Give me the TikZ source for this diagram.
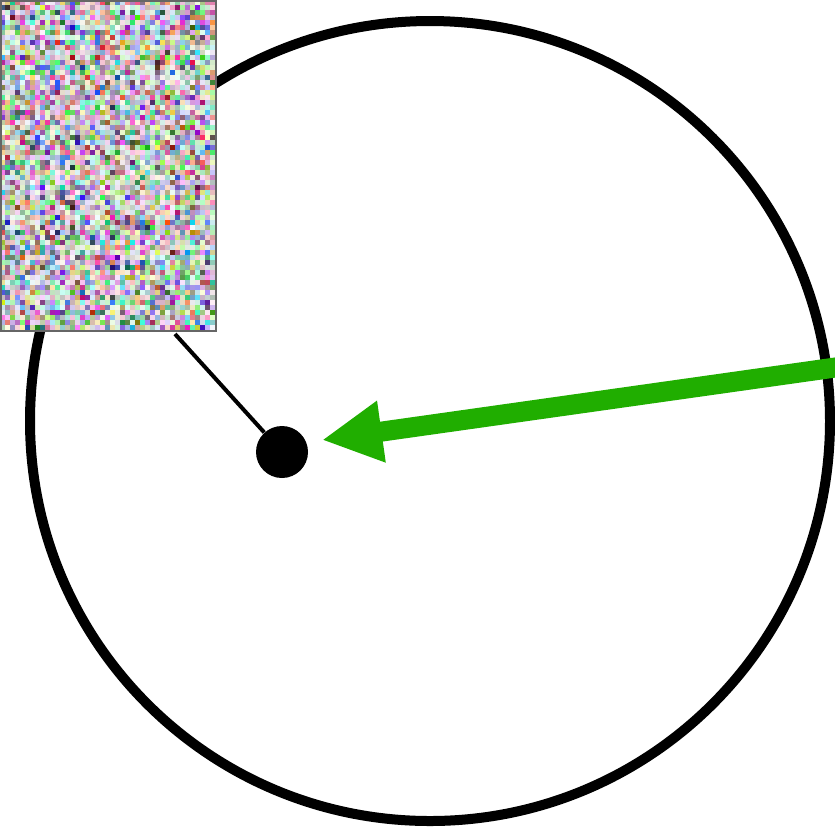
\documentclass[tikz,border=0pt]{standalone}
\usepackage{tikz}
\usetikzlibrary{positioning,calc,arrows.meta}

\definecolor{pushgreen}{RGB}{32,174,0}

\begin{document}
\begin{tikzpicture}[x=0.5pt, y=-0.5pt,
  ring/.style={draw=black, line width=5pt},
  mass/.style={circle, fill=black, inner sep=0pt, minimum size=26pt},
  frame/.style={draw=black!60, line width=0.8pt, inner sep=0pt,
    minimum width=107.5pt, minimum height=165pt, anchor=north west},
  tether/.style={draw=black, line width=2pt},
  push/.style={draw=pushgreen, line width=10pt,
    -{Triangle[length=30pt, width=29pt]}},
]
\clip (0,0) rectangle (835,827);

\draw[ring] (430,421) circle [radius=400];

% noise picture, 43 x 66 cells of 5px
\pgfmathsetseed{4127}
\foreach \i in {0,...,42}{
  \foreach \j in {0,...,65}{
    \pgfmathsetmacro{\sat}{0.15+0.85*rnd}
    \pgfmathsetmacro{\pr}{int(255*(1-\sat*rnd))}
    \pgfmathsetmacro{\pg}{int(255*(1-\sat*rnd))}
    \pgfmathsetmacro{\pb}{int(255*(1-\sat*rnd))}
    \definecolor{cell}{RGB}{\pr,\pg,\pb}
    \fill[cell] (\i*5,\j*5) rectangle ++(5,5);
  }
}
\node[frame] (img) at (0,0) {};

\node[mass] (bob) at (282,452) {};
\coordinate (pin) at (175,334);
\draw[tether] (pin) -- (bob);

\coordinate (start) at (860,364);
\coordinate (tip) at (322,440);
\draw[push] (start) -- (tip);
\end{tikzpicture}
\end{document}
